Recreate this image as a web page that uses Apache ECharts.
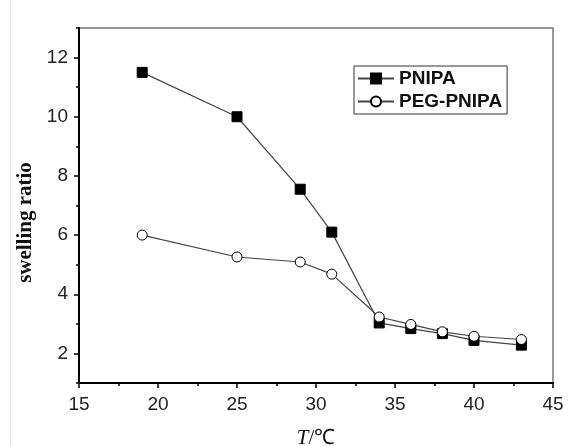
<!DOCTYPE html>
<html>
<head>
<meta charset="utf-8">
<script src="https://cdn.jsdelivr.net/npm/echarts@6/dist/echarts.min.js"></script>
<style>
  html, body { margin: 0; padding: 0; background: #fff; }
  #swellChart { width: 568px; height: 446px; }
</style>
</head>
<body>
<div id="swellChart"></div>
<script>
// temperature (℃) and swelling ratio
var temps = [19, 25, 29, 31, 34, 36, 38, 40, 43];
var pnipa = [11.5, 10.0, 7.55, 6.1, 3.03, 2.84, 2.67, 2.44, 2.28];
var pegPnipa = [6.0, 5.26, 5.09, 4.68, 3.23, 2.98, 2.73, 2.58, 2.47];
var seriesNames = ['PNIPA', 'PEG-PNIPA'];

function pairs(xs, ys) {
  return xs.map(function (x, i) { return [x, ys[i]]; });
}

var chart = echarts.init(document.getElementById('swellChart'));

var options = {
  animation: false,
  grid: {
    left: 79,
    right: 15,
    top: 28,
    bottom: 63,
    containLabel: false,
    outerBoundsMode: 'none',
    show: true,
    borderColor: '#777',
    borderWidth: 1.5
  },
  legend: {
    orient: 'vertical',
    left: 354,
    top: 66,
    data: seriesNames,
    itemWidth: 36,
    itemHeight: 12.5,
    itemGap: 4,
    padding: [3, 5, 3, 3],
    borderColor: '#333',
    borderWidth: 1,
    textStyle: {
      fontFamily: 'Liberation Sans',
      fontWeight: 'bold',
      fontSize: 19,
      color: '#111'
    }
  },
  xAxis: {
    type: 'value',
    min: 15,
    max: 45,
    interval: 5,
    name: '{i|T}/℃',
    nameLocation: 'middle',
    nameGap: 45,
    nameTextStyle: {
      fontFamily: 'Liberation Serif',
      fontSize: 21,
      color: '#111',
      rich: {
        i: { fontFamily: 'Liberation Serif', fontStyle: 'italic', fontSize: 21, color: '#111' }
      }
    },
    axisLine: { lineStyle: { color: '#000', width: 2 } },
    axisTick: { length: 5, lineStyle: { color: '#000', width: 1.5 } },
    minorTick: { show: true, splitNumber: 2, length: 3, lineStyle: { color: '#000', width: 1.5 } },
    splitLine: { show: false },
    axisLabel: {
      margin: 12,
      fontFamily: 'Liberation Sans',
      fontSize: 19,
      color: '#222'
    }
  },
  yAxis: [
    {
      type: 'value',
      min: 1,
      max: 13,
      name: 'swelling ratio',
      nameLocation: 'middle',
      nameGap: 38,
      nameTextStyle: {
        fontFamily: 'Liberation Serif',
        fontWeight: 'bold',
        fontSize: 21,
        color: '#111',
        padding: [0, 34, 0, 0]
      },
      axisLine: { lineStyle: { color: '#000', width: 2 } },
      axisTick: { length: 5, lineStyle: { color: '#000', width: 1.5 } },
      splitLine: { show: false },
      axisLabel: {
        margin: 11,
        showMinLabel: false,
        showMaxLabel: false,
        fontFamily: 'Liberation Sans',
        fontSize: 19,
        color: '#222'
      }
    },
    {
      // odd-value minor ticks only
      type: 'value',
      position: 'left',
      min: 1,
      max: 13,
      interval: 2,
      axisLine: { show: false },
      axisTick: { length: 3, lineStyle: { color: '#000', width: 1.5 } },
      axisLabel: { show: false },
      splitLine: { show: false }
    }
  ],
  series: [
    {
      name: seriesNames[0],
      type: 'line',
      data: pairs(temps, pnipa),
      symbol: 'rect',
      symbolSize: 10,
      lineStyle: { color: '#444', width: 1.2 },
      itemStyle: { color: '#000', borderColor: '#000', borderWidth: 1 }
    },
    {
      name: seriesNames[1],
      type: 'line',
      data: pairs(temps, pegPnipa),
      symbol: 'circle',
      symbolSize: 10,
      lineStyle: { color: '#444', width: 1.2 },
      itemStyle: { color: '#fff', borderColor: '#000', borderWidth: 1 }
    }
  ],
  graphic: [
    {
      type: 'line',
      shape: { x1: 10.5, y1: 0, x2: 10.5, y2: 446 },
      style: { stroke: '#e4e4e4', lineWidth: 1 }
    }
  ]
};

chart.setOption(options);
</script>
</body>
</html>
